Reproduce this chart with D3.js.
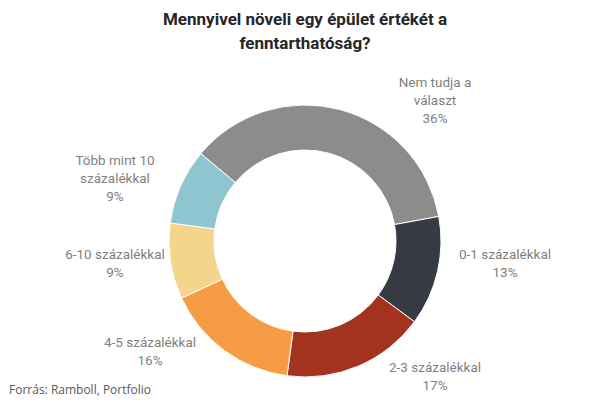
<!DOCTYPE html>
<html><head><meta charset="utf-8">
<script src="https://cdn.jsdelivr.net/npm/d3@7"></script>
<style>body{margin:0;background:#fff}</style></head>
<body><div id="chart"></div>
<script>
const categories = ["Nem tudja a választ", "0-1 százalékkal", "2-3 százalékkal", "4-5 százalékkal", "6-10 százalékkal", "Több mint 10 százalékkal"];
const values = [36, 13, 17, 16, 9, 9];
const labelLines = [["Nem tudja a", "választ"], ["0-1 százalékkal"], ["2-3 százalékkal"], ["4-5 százalékkal"], ["6-10 százalékkal"], ["Több mint 10", "százalékkal"]];
const colors = ["#8c8c8c", "#363a43", "#a3321f", "#f59c45", "#f5d58b", "#8fc5d0"];

const W = 605, H = 408, cx = 305, cy = 241;
// label anchor points (layout, not data)
const labelAt = [[435, 87], [505, 259], [435, 372], [150, 347], [115, 259], [115, 165]];

const svg = d3.select("#chart").append("svg").attr("width", W).attr("height", H)
  .style("font-family", "Roboto, 'Open Sans', sans-serif");

svg.append("text").attr("x", 305).attr("y", 25).attr("text-anchor", "middle")
  .attr("font-size", 17).attr("font-weight", "bold").attr("fill", "#262626")
  .selectAll("tspan").data(["Mennyivel növeli egy épület értékét a", "fenntarthatóság?"]).join("tspan")
  .attr("x", 305).attr("dy", (d, i) => i ? 24 : 0).text(d => d);

const start = -50 * Math.PI / 180;
const pie = d3.pie().sort(null).startAngle(start).endAngle(start + 2 * Math.PI);
const arc = d3.arc().innerRadius(91).outerRadius(136);

const g = svg.append("g").attr("transform", `translate(${cx},${cy})`);
g.selectAll("path").data(pie(values)).join("path")
  .attr("d", arc).attr("fill", (d, i) => colors[i]).attr("stroke", "#fff").attr("stroke-width", 1);

labelAt.forEach((p, i) => {
  const t = svg.append("text").attr("text-anchor", "middle").attr("font-size", 13.5).attr("fill", "#7f7f7f");
  const lines = labelLines[i].concat([values[i] + "%"]);
  lines.forEach((l, j) => t.append("tspan").attr("x", p[0]).attr("y", p[1] + j * 18).text(l));
});

svg.append("text").attr("x", 9).attr("y", 394).attr("font-size", 12).attr("fill", "#595959")
  .style("font-family", "'Open Sans', sans-serif").text("Forrás: Ramboll, Portfolio");
</script></body></html>
